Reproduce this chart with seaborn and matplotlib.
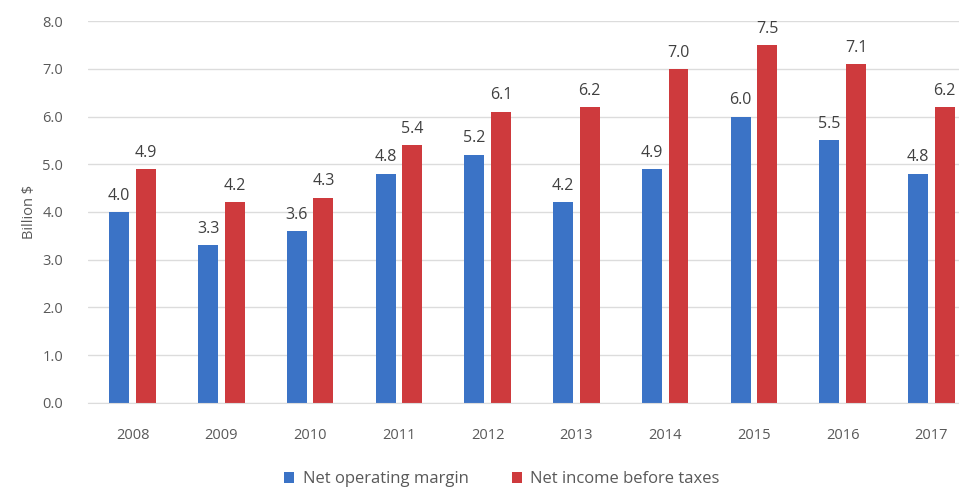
import pandas as pd
import numpy as np
import matplotlib
matplotlib.use("Agg")
import matplotlib.pyplot as plt
import seaborn as sns

# chart values
years = ["2008", "2009", "2010", "2011", "2012", "2013", "2014", "2015", "2016", "2017"]
net_operating_margin = [4.0, 3.3, 3.6, 4.8, 5.2, 4.2, 4.9, 6.0, 5.5, 4.8]
net_income_before_taxes = [4.9, 4.2, 4.3, 5.4, 6.1, 6.2, 7.0, 7.5, 7.1, 6.2]
series_names = ["Net operating margin", "Net income before taxes"]

df = pd.DataFrame({
    "Year": years * 2,
    "Value": net_operating_margin + net_income_before_taxes,
    "Series": [series_names[0]] * len(years) + [series_names[1]] * len(years),
})

sns.set_style("white")
plt.rcParams["font.family"] = ["Open Sans", "DejaVu Sans"]

palette = {series_names[0]: "#3B73C6", series_names[1]: "#CE3A3D"}

fig = plt.figure(figsize=(9.59, 4.93), dpi=100)
ax = fig.add_axes([0.092, 0.183, 0.908, 0.774])

sns.barplot(data=df, x="Year", y="Value", hue="Series", palette=palette,
            width=0.6, gap=0.25, saturation=1, linewidth=0, ax=ax, legend=True)

ax.set_ylim(0, 8)
ax.set_xlim(-0.5, 9.31)
ax.set_yticks(np.arange(0, 8.1, 1.0))
ax.set_yticklabels([f"{v:.1f}" for v in np.arange(0, 8.1, 1.0)])
ax.yaxis.grid(True, color="#DCDCDC", linewidth=1)
ax.set_axisbelow(True)
for s in ax.spines.values():
    s.set_visible(False)
ax.spines["bottom"].set_visible(True)
ax.spines["bottom"].set_color("#DCDCDC")
ax.tick_params(axis="both", length=0, colors="#595959", labelsize=10.5)
ax.tick_params(axis="x", pad=18)
ax.tick_params(axis="y", pad=18)
ax.set_xlabel("")
ax.set_ylabel("Billion $", color="#595959", fontsize=10.5, labelpad=4)

for cont in ax.containers:
    for bar in cont:
        h = bar.get_height()
        ax.annotate(f"{h:.1f}", (bar.get_x() + bar.get_width() / 2, h),
                    xytext=(0, 6), textcoords="offset points",
                    ha="center", va="bottom", fontsize=11.5, color="#404040")

handles, labels = ax.get_legend_handles_labels()
ax.legend(handles, labels, loc="upper center", bbox_to_anchor=(0.475, -0.14),
          ncol=2, frameon=False, fontsize=12, handlelength=0.6, handleheight=0.6,
          columnspacing=2.6, handletextpad=0.5, labelcolor="#595959")

fig.savefig("out.png", dpi=100)
